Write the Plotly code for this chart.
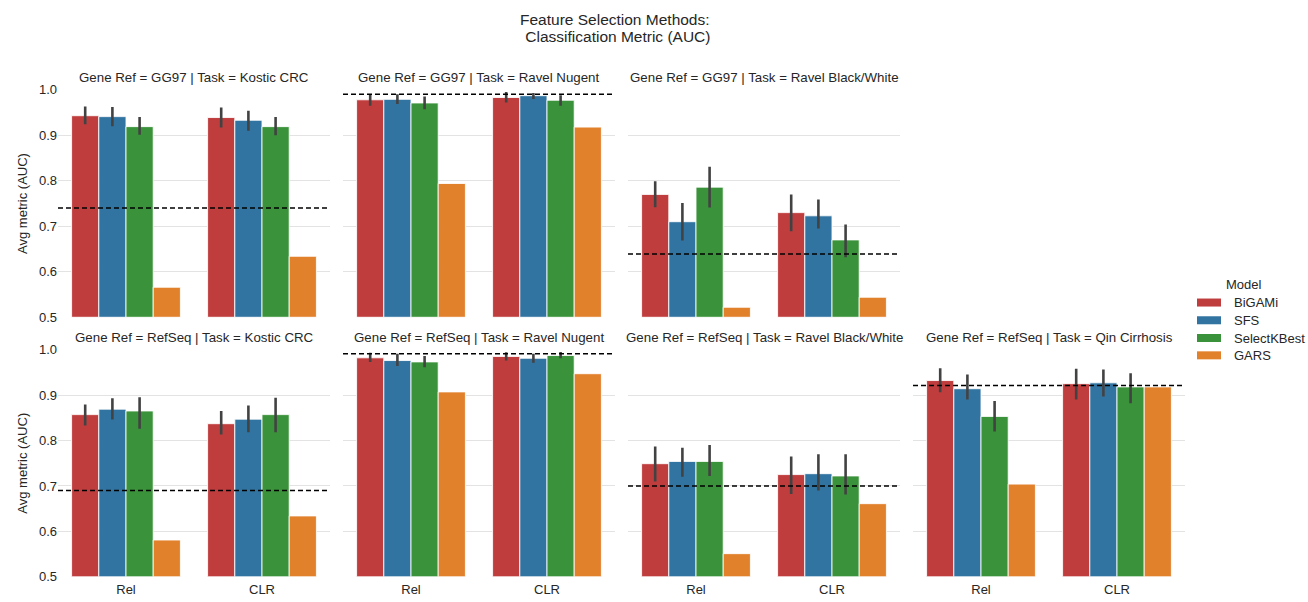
import plotly.graph_objects as go

models = ["BiGAMi", "SFS", "SelectKBest", "GARS"]
colors = ["#C03D3E", "#3274A1", "#3A923A", "#E1812C"]
transforms = ["Rel", "CLR"]

panel_titles = [
    "Gene Ref = GG97 | Task = Kostic CRC",
    "Gene Ref = GG97 | Task = Ravel Nugent",
    "Gene Ref = GG97 | Task = Ravel Black/White",
    "Gene Ref = RefSeq | Task = Kostic CRC",
    "Gene Ref = RefSeq | Task = Ravel Nugent",
    "Gene Ref = RefSeq | Task = Ravel Black/White",
    "Gene Ref = RefSeq | Task = Qin Cirrhosis",
]
panel_cells = [(0, 0), (0, 1), (0, 2), (1, 0), (1, 1), (1, 2), (1, 3)]

title_lines = ["Feature Selection Methods:", " Classification Metric (AUC)"]

# mean AUC per model (rows) x transform (cols)
gg97_kostic_mean = [[0.943, 0.939], [0.941, 0.933], [0.919, 0.919], [0.566, 0.634]]
gg97_kostic_lo = [[0.924, 0.917], [0.920, 0.910], [0.901, 0.900], [None, None]]
gg97_kostic_hi = [[0.963, 0.961], [0.962, 0.954], [0.940, 0.940], [None, None]]

gg97_nugent_mean = [[0.978, 0.983], [0.979, 0.987], [0.971, 0.977], [0.794, 0.918]]
gg97_nugent_lo = [[0.965, 0.972], [0.969, 0.980], [0.957, 0.965], [None, None]]
gg97_nugent_hi = [[0.990, 0.995], [0.990, 0.993], [0.985, 0.988], [None, None]]

gg97_bw_mean = [[0.770, 0.730], [0.710, 0.723], [0.786, 0.670], [0.522, 0.544]]
gg97_bw_lo = [[0.742, 0.689], [0.669, 0.695], [0.741, 0.632], [None, None]]
gg97_bw_hi = [[0.799, 0.770], [0.751, 0.759], [0.831, 0.704], [None, None]]

refseq_kostic_mean = [[0.857, 0.837], [0.869, 0.847], [0.865, 0.857], [0.581, 0.634]]
refseq_kostic_lo = [[0.833, 0.813], [0.846, 0.818], [0.826, 0.818], [None, None]]
refseq_kostic_hi = [[0.879, 0.865], [0.893, 0.877], [0.895, 0.894], [None, None]]

refseq_nugent_mean = [[0.982, 0.985], [0.976, 0.981], [0.973, 0.987], [0.907, 0.947]]
refseq_nugent_lo = [[0.973, 0.976], [0.964, 0.971], [0.961, 0.981], [None, None]]
refseq_nugent_hi = [[0.993, 0.994], [0.991, 0.991], [0.986, 0.995], [None, None]]

refseq_bw_mean = [[0.749, 0.725], [0.754, 0.727], [0.754, 0.722], [0.551, 0.661]]
refseq_bw_lo = [[0.710, 0.682], [0.720, 0.690], [0.722, 0.681], [None, None]]
refseq_bw_hi = [[0.787, 0.765], [0.784, 0.770], [0.790, 0.770], [None, None]]

refseq_qin_mean = [[0.932, 0.925], [0.914, 0.927], [0.853, 0.918], [0.704, 0.918]]
refseq_qin_lo = [[0.906, 0.890], [0.890, 0.897], [0.820, 0.882], [None, None]]
refseq_qin_hi = [[0.959, 0.958], [0.945, 0.956], [0.887, 0.948], [None, None]]

baselines = [0.740, 0.990, 0.639, 0.690, 0.991, 0.700, 0.921]

panels_mean = [gg97_kostic_mean, gg97_nugent_mean, gg97_bw_mean, refseq_kostic_mean,
               refseq_nugent_mean, refseq_bw_mean, refseq_qin_mean]
panels_lo = [gg97_kostic_lo, gg97_nugent_lo, gg97_bw_lo, refseq_kostic_lo,
             refseq_nugent_lo, refseq_bw_lo, refseq_qin_lo]
panels_hi = [gg97_kostic_hi, gg97_nugent_hi, gg97_bw_hi, refseq_kostic_hi,
             refseq_nugent_hi, refseq_bw_hi, refseq_qin_hi]

W, H = 1308, 602
col_px = [(58, 330), (343, 615), (628, 900), (913, 1185)]
row_px = [(90, 317), (349.3, 576)]

FONT = "Liberation Sans, Arial, sans-serif"
TXT = "#262626"


def px_x(v):
    return v / W


def px_y(v):
    v = (v - 7.4) / 0.973
    return 1 - v / H


fig = go.Figure()
layout = {}
annotations = []
shapes = []

for p, (r, c) in enumerate(panel_cells):
    idx = p + 1
    xa = "x" if idx == 1 else f"x{idx}"
    ya = "y" if idx == 1 else f"y{idx}"
    xkey = "xaxis" if idx == 1 else f"xaxis{idx}"
    ykey = "yaxis" if idx == 1 else f"yaxis{idx}"
    for m, model in enumerate(models):
        means = panels_mean[p][m]
        lo = panels_lo[p][m]
        hi = panels_hi[p][m]
        err = None
        if lo[0] is not None:
            err = dict(type="data", symmetric=False,
                       array=[hi[i] - means[i] for i in range(2)],
                       arrayminus=[means[i] - lo[i] for i in range(2)],
                       color="#424242", thickness=2.6, width=0)
        fig.add_trace(go.Bar(
            x=transforms, y=[v - 0.5 for v in means], base=0.5,
            name=model, legendgroup=model, showlegend=False,
            marker=dict(color=colors[m], line=dict(color="rgba(255,255,255,0.85)", width=1)),
            error_y=err, xaxis=xa, yaxis=ya,
            hovertemplate="%{x}: %{y}<extra>" + model + "</extra>",
        ))
    x0, x1 = col_px[c]
    y0, y1 = row_px[r]
    layout[xkey] = dict(domain=[px_x(x0), px_x(x1)], anchor=ya, type="category",
                        categoryorder="array", categoryarray=transforms,
                        range=[-0.5, 1.5], showticklabels=(r == 1),
                        showgrid=False, showline=False, zeroline=False, ticks="",
                        ticklabelstandoff=3,
                        tickfont=dict(size=13, color=TXT, family=FONT))
    layout[ykey] = dict(domain=[px_y(y1), px_y(y0)], anchor=xa,
                        range=[0.5, 1.0], dtick=0.1, tick0=0.5, tickformat=".1f",
                        showticklabels=(c == 0), showgrid=True, gridcolor="#e3e3e3",
                        gridwidth=1, zeroline=False, showline=False, ticks="",
                        tickfont=dict(size=13, color=TXT, family=FONT))
    if c == 0:
        layout[ykey]["title"] = dict(text="Avg metric (AUC)", standoff=8,
                                     font=dict(size=13, color=TXT, family=FONT))
    annotations.append(dict(text=panel_titles[p], x=px_x((x0 + x1) / 2),
                            y=px_y(y0 - 12), xref="paper", yref="paper",
                            xanchor="center", yanchor="middle",
                            showarrow=False, font=dict(size=13.3, color=TXT, family=FONT)))
    shapes.append(dict(type="line", xref=f"{xa} domain", yref=ya, x0=0, x1=1,
                       y0=baselines[p], y1=baselines[p],
                       line=dict(color="black", width=1.5, dash="5px,3px")))

for i, line in enumerate(title_lines):
    annotations.append(dict(text=line, x=px_x(615), y=px_y(20 + 17 * i),
                            xref="paper", yref="paper",
                            xanchor="center", yanchor="middle", showarrow=False,
                            font=dict(size=15.5, color=TXT, family=FONT)))

# legend drawn as swatches + text
annotations.append(dict(text="Model", x=px_x(1244), y=px_y(284), xref="paper", yref="paper",
                        xanchor="center", yanchor="middle", showarrow=False,
                        font=dict(size=13, color=TXT, family=FONT)))
leg_y = [302.3, 320, 337.7, 355]
for m, model in enumerate(models):
    shapes.append(dict(type="rect", xref="paper", yref="paper",
                       x0=px_x(1197), x1=px_x(1221),
                       y0=px_y(leg_y[m] + 4), y1=px_y(leg_y[m] - 4),
                       fillcolor=colors[m], line=dict(width=0)))
    annotations.append(dict(text=model, x=px_x(1232), y=px_y(leg_y[m]),
                            xref="paper", yref="paper", xanchor="left", yanchor="middle",
                            showarrow=False, font=dict(size=13, color=TXT, family=FONT)))

fig.update_layout(
    width=W, height=H, autosize=False,
    margin=dict(l=0, r=0, t=0, b=0),
    paper_bgcolor="white", plot_bgcolor="white",
    barmode="group", bargap=0.2, bargroupgap=0,
    font=dict(family=FONT, color=TXT, size=13),
    annotations=annotations, shapes=shapes,
    showlegend=False,
    **layout,
)

fig.write_html(
    "out.html",
    config={"displayModeBar": False},
    post_script=(
        "document.documentElement.style.margin='0';"
        "document.body.style.margin='0';"
        "document.body.style.overflow='hidden';"
        "var gd=document.getElementById('{plot_id}');"
        "gd.style.position='fixed';gd.style.top='0px';gd.style.left='0px';"
    ),
)
